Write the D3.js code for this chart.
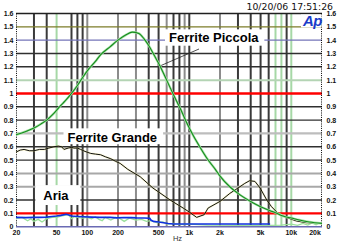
<!DOCTYPE html>
<html><head><meta charset="utf-8">
<script src="https://cdn.jsdelivr.net/npm/d3@7"></script>
<style>
html,body{margin:0;padding:0;background:#fff;overflow:hidden}
svg{display:block}
</style></head>
<body>
<svg id="c" width="342" height="245"></svg>
<script>
// ---- data ----
const yTicks = [0,0.1,0.2,0.3,0.4,0.5,0.6,0.7,0.8,0.9,1,1.1,1.2,1.3,1.4,1.5,1.6];
const yTickLabels = ["0","0.1","0.2","0.3","0.4","0.5","0.6","0.7","0.8","0.9","1","1.1","1.2","1.3","1.4","1.5","1.6"];
const xTicks = [20,50,100,200,500,1000,2000,5000,10000,20000];
const xTickLabels = ["20","50","100","200","500","1k","2k","5k","10k","20k"];
const xGrid = [30,40,50,70,80,90,100,200,300,400,500,600,700,800,900,1000,2000,3000,4000,5000,6000,7000,8000,9000,10000];
const timestamp = "10/20/06 17:51:26";

const piccola = [[20,0.69],[25,0.715],[30,0.74],[35,0.77],[40,0.80],[47,0.85],[55,0.91],[60,0.94],[70,1.0],[80,1.06],[90,1.12],[100,1.17],[120,1.24],[135,1.29],[167,1.35],[200,1.40],[240,1.44],[275,1.46],[320,1.45],[360,1.41],[400,1.36],[450,1.29],[513,1.21],[600,1.10],[700,0.99],[812,0.89],[943,0.78],[1100,0.68],[1266,0.60],[1500,0.51],[1800,0.43],[2000,0.38],[2494,0.30],[3000,0.25],[4200,0.18],[5000,0.15],[6200,0.12],[7000,0.105],[8300,0.08],[10000,0.065],[12000,0.05],[15000,0.035],[20000,0.025]];

const grande = [[20,0.56],[22,0.575],[24,0.58],[27,0.57],[30,0.57],[34,0.58],[38,0.58],[42,0.59],[47,0.60],[52,0.605],[56,0.60],[59,0.58],[65,0.59],[70,0.595],[74,0.59],[80,0.59],[86,0.58],[95,0.565],[108,0.55],[120,0.545],[135,0.54],[150,0.525],[170,0.51],[190,0.49],[210,0.475],[250,0.43],[330,0.375],[440,0.29],[650,0.20],[870,0.14],[1000,0.11],[1180,0.07],[1400,0.09],[1450,0.11],[1530,0.14],[2000,0.19],[2500,0.25],[3000,0.29],[3500,0.325],[3900,0.345],[4400,0.34],[4950,0.29],[5750,0.20],[6400,0.15],[7200,0.11],[8000,0.088],[9300,0.065],[11200,0.043],[14000,0.03],[20000,0.025]];

const aria = [[20,0.07],[25,0.068],[30,0.07],[34,0.07],[40,0.072],[45,0.076],[50,0.08],[55,0.085],[62,0.093],[66,0.088],[70,0.08],[80,0.077],[91,0.075],[110,0.072],[133,0.07],[167,0.07],[195,0.066],[230,0.069],[270,0.068],[305,0.066],[360,0.065],[410,0.063],[420,0.05],[445,0.04],[500,0.035],[560,0.03],[620,0.024],[700,0.02],[1000,0.02],[2000,0.02],[4000,0.02],[6200,0.02]];

const ariaNoise = [[20,0.06],[23,0.07],[26,0.045],[28,0.06],[30,0.04],[33,0.055],[36,0.035],[40,0.06],[45,0.07],[50,0.07],[55,0.08],[60,0.085],[65,0.09],[70,0.06],[75,0.075],[80,0.07],[90,0.065],[100,0.07],[110,0.06],[120,0.075],[130,0.055],[140,0.045],[150,0.07],[170,0.05],[190,0.07],[210,0.06],[230,0.04],[260,0.065],[300,0.05],[340,0.055],[380,0.04],[420,0.045],[480,0.03],[550,0.035],[620,0.02],[700,0.025],[800,0.015],[1000,0.02],[1500,0.012],[3000,0.01],[6000,0.01],[8000,0.012],[10000,0.02],[11500,0.01],[13000,0.025],[14500,0.012],[16000,0.028],[17500,0.015],[19000,0.03],[20000,0.02]];

// ---- layout ----
const svg = d3.select("#c");
const L = 16, R = 322, T = 13.5, B = 226.7;
const x = d3.scaleLog().domain([20,20000]).range([L,R]);
const y = d3.scaleLinear().domain([0,1.6]).range([B,T]);

// vertical grid styles
const vStyle = {
  50:"#a6d8a6", 100:"#8c8c8c", 200:"#8c8c8c", 300:"#8c8c8c", 600:"#8c8c8c", 900:"#8c8c8c",
  2000:"#8c8c8c", 7000:"#a6d8a6", 8000:"#a6d8a6", 10000:"#a6d8a6"
};
svg.append("g").selectAll("line").data(xGrid).join("line")
  .attr("x1", d => x(d)).attr("x2", d => x(d))
  .attr("y1", T).attr("y2", B)
  .attr("stroke", d => vStyle[d] || "#3a3a3a")
  .attr("stroke-width", 2);

// horizontal grid styles
const hStyle = {
  "0":["#6a6ab4",1.5], "0.1":["#ff0000",2.2], "0.2":["#303030",1.4], "0.3":["#a8a8a8",2], "0.4":["#a8a8a8",2],
  "0.5":["#303030",1.4], "0.6":["#303030",1.4], "0.7":["#bdbdbd",2.2], "0.8":["#303030",1.4], "0.9":["#303030",1.4],
  "1":["#ff0000",2.6], "1.1":["#b4d4b4",2], "1.2":["#303030",1.4], "1.3":["#303030",1.4], "1.4":["#7474b8",1.3],
  "1.5":["#7c7c28",1.3], "1.6":["#202020",1.4]
};
svg.append("g").selectAll("line").data(yTicks).join("line")
  .attr("x1", L).attr("x2", R)
  .attr("y1", d => y(d)).attr("y2", d => y(d))
  .attr("stroke", d => hStyle[String(d)][0])
  .attr("stroke-width", d => hStyle[String(d)][1]);

// axes edges (dotted)
[L+0.5, R-0.5].forEach(px => {
  svg.append("line").attr("x1",px).attr("x2",px).attr("y1",T).attr("y2",B)
    .attr("stroke","#000").attr("stroke-width",1).attr("stroke-dasharray","1,1.2");
});

// curves
const line = d3.line().x(d => x(d[0])).y(d => y(d[1]));
const smooth = d3.line().x(d => x(d[0])).y(d => y(d[1])).curve(d3.curveMonotoneX);

svg.append("path").datum(ariaNoise).attr("d", line)
  .attr("fill","none").attr("stroke","#9be09b").attr("stroke-width",1.3);
svg.append("path").datum(aria).attr("d", line)
  .attr("fill","none").attr("stroke","#1030e0").attr("stroke-width",1.6);

svg.append("path").datum(grande).attr("d", line)
  .attr("fill","none").attr("stroke","#e8e070").attr("stroke-width",2).attr("opacity",0.35);
svg.append("path").datum(grande).attr("d", line)
  .attr("fill","none").attr("stroke","#111").attr("stroke-width",1);

svg.append("path").datum(piccola).attr("d", smooth)
  .attr("fill","none").attr("stroke","#a8e4a8").attr("stroke-width",2.4);
svg.append("path").datum(piccola).attr("d", smooth)
  .attr("fill","none").attr("stroke","#168a1e").attr("stroke-width",1.1);

// leader line for Ferrite Piccola
svg.append("line")
  .attr("x1", x(530)).attr("y1", y(1.21))
  .attr("x2", 199).attr("y2", 49)
  .attr("stroke","#222").attr("stroke-width",0.8);

// labels with white boxes
const labels = [
  {t:"Ferrite Piccola", x:169, y:41.7, pl:4, pr:5, pt:3, pb:4},
  {t:"Ferrite Grande", x:67.5, y:141.7, pl:4, pr:6, pt:4, pb:2.5},
  {t:"Aria", x:43.3, y:200, pl:8, pr:11, pt:5.5, pb:5}
];
labels.forEach(l => {
  const g = svg.append("g");
  const r = g.append("rect").attr("fill","#fff");
  const t = g.append("text").attr("x", l.x).attr("y", l.y)
    .attr("font-family","Liberation Sans, Arial, sans-serif")
    .attr("font-weight","bold").attr("font-size",13).attr("fill","#000").text(l.t);
  const bb = t.node().getBBox();
  const capTop = l.y - 13*0.72;
  r.attr("x", bb.x - l.pl).attr("y", capTop - l.pt)
   .attr("width", bb.width + l.pl + l.pr).attr("height", (l.y - capTop) + l.pt + l.pb);
});

// Ap logo
svg.append("rect").attr("x",301).attr("y",14.5).attr("width",20.5).attr("height",13).attr("fill","#fff");
svg.append("text").attr("x",303).attr("y",25.5)
  .attr("font-family","Liberation Sans, Arial, sans-serif").attr("font-weight","bold")
  .attr("font-style","italic").attr("font-size",15).attr("fill","#1a3cc8")
  .attr("letter-spacing",-0.5).text("Ap");

// tick labels
const tf = "Liberation Sans, Arial, sans-serif";
svg.append("g").selectAll("text").data(yTicks).join("text")
  .attr("x", 13.5).attr("y", d => y(d) + 2.6)
  .attr("text-anchor","end").attr("font-family",tf).attr("font-size",7).attr("font-weight","bold")
  .attr("fill","#111").text((d,i) => yTickLabels[i]);
svg.append("g").selectAll("text").data(yTicks).join("text")
  .attr("x", 326.5).attr("y", d => y(d) + 2.6)
  .attr("text-anchor","start").attr("font-family",tf).attr("font-size",7).attr("font-weight","bold")
  .attr("fill","#111").text((d,i) => yTickLabels[i]);
svg.append("g").selectAll("text").data(xTicks).join("text")
  .attr("x", (d,i) => i === 0 ? x(d) + 0.5 : (i === xTicks.length-1 ? x(d) - 7 : x(d)))
  .attr("y", 235)
  .attr("text-anchor","middle").attr("font-family",tf).attr("font-size",7).attr("font-weight","bold")
  .attr("fill","#111").text((d,i) => xTickLabels[i]);
svg.append("text").attr("x",177.5).attr("y",241).attr("text-anchor","middle")
  .attr("font-family",tf).attr("font-size",7.5).attr("fill","#333").text("Hz");

// timestamp
svg.append("text").attr("x",333).attr("y",9.5).attr("text-anchor","end")
  .attr("font-family","DejaVu Sans, sans-serif").attr("font-size",9.3).attr("fill","#111").text(timestamp);
</script>
</body></html>
